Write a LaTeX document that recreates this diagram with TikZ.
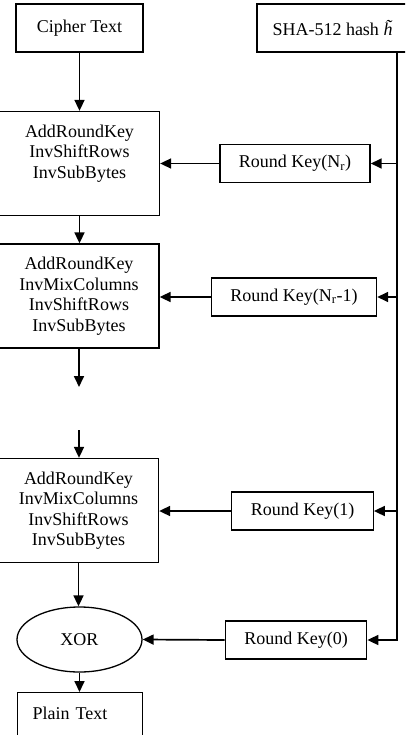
\documentclass[tikz,border=0pt]{standalone}
\usepackage{fontspec}
\setmainfont{Liberation Serif}
\usetikzlibrary{arrows.meta,shapes.geometric}

\begin{document}
\begin{tikzpicture}[x=1pt,y=1pt,
  font=\fontsize{18}{20.5}\selectfont,
  box/.style={draw,line width=1.3pt,align=center},
  roundbox/.style={box,minimum width=160pt,minimum height=104pt,inner sep=0pt},
  keybox/.style={box,inner xsep=19pt,minimum height=38pt},
  arr/.style={line width=1.7pt,-{Triangle[length=11pt,width=10pt]}}]
\useasboundingbox (0,0) rectangle (405,-735);
\clip (0,0) rectangle (405,-735);

\node[box,minimum width=127pt,minimum height=48pt] (cipher) at (79.5,-28) {Cipher Text};
\node[box,minimum width=151pt,minimum height=48pt] (sha) at (332.5,-28) {SHA-512 hash {\itshape\~{h}}};

% decryption rounds
\node[roundbox,text depth=24pt] (r1) at (79.5,-163.5) {AddRoundKey\\InvShiftRows\\InvSubBytes};
\node[roundbox] (r2) at (79,-296) {AddRoundKey\\InvMixColumns\\InvShiftRows\\InvSubBytes};
\node[roundbox] (r3) at (78.5,-510.5) {AddRoundKey\\InvMixColumns\\InvShiftRows\\InvSubBytes};
\node[box,ellipse,minimum width=125pt,minimum height=65pt,inner sep=0pt] (xor) at (79.5,-639.5) {XOR};
\node[box,anchor=north west,text width=95pt,align=left,inner xsep=15pt,inner ysep=14pt,
  text depth=40pt] (plain) at (17,-692) {Plain Text};

% round keys
\node[keybox] (kNr) at (295,-163.5) {Round Key(N\textsubscript{r})};
\node[keybox] (kNr1) at (294,-297) {Round Key(N\textsubscript{r}-1)};
\node[keybox] (k1) at (302.5,-511) {Round Key(1)};
\node[keybox] (k0) at (296,-640) {Round Key(0)};

\coordinate (top) at (397,-52);
\coordinate (gapA) at (79,-387);
\coordinate (gapB) at (79,-430);

\draw[arr] (cipher.south) -- (cipher.south |- r1.north);
\draw[arr] (r1.south) -- (r1.south |- r2.north);
\draw[arr] (r2.south) -- (gapA);
\draw[arr] (gapB) -- (gapB |- r3.north);
\draw[arr] (r3.south) -- (r3.south |- xor.north);
\draw[arr] (xor.south) -- (xor.south |- plain.north);

\draw[arr] (kNr.west) -- (kNr.west -| r1.east);
\draw[arr] (kNr1.west) -- (kNr1.west -| r2.east);
\draw[arr] (k1.west) -- (k1.west -| r3.east);
\draw[arr] (k0.west) -- (xor.east);

\draw[arr] (top) |- (k0.east);
\foreach \k in {kNr,kNr1,k1}
  \draw[arr] (\k.east -| top) -- (\k.east);
\end{tikzpicture}
\end{document}
